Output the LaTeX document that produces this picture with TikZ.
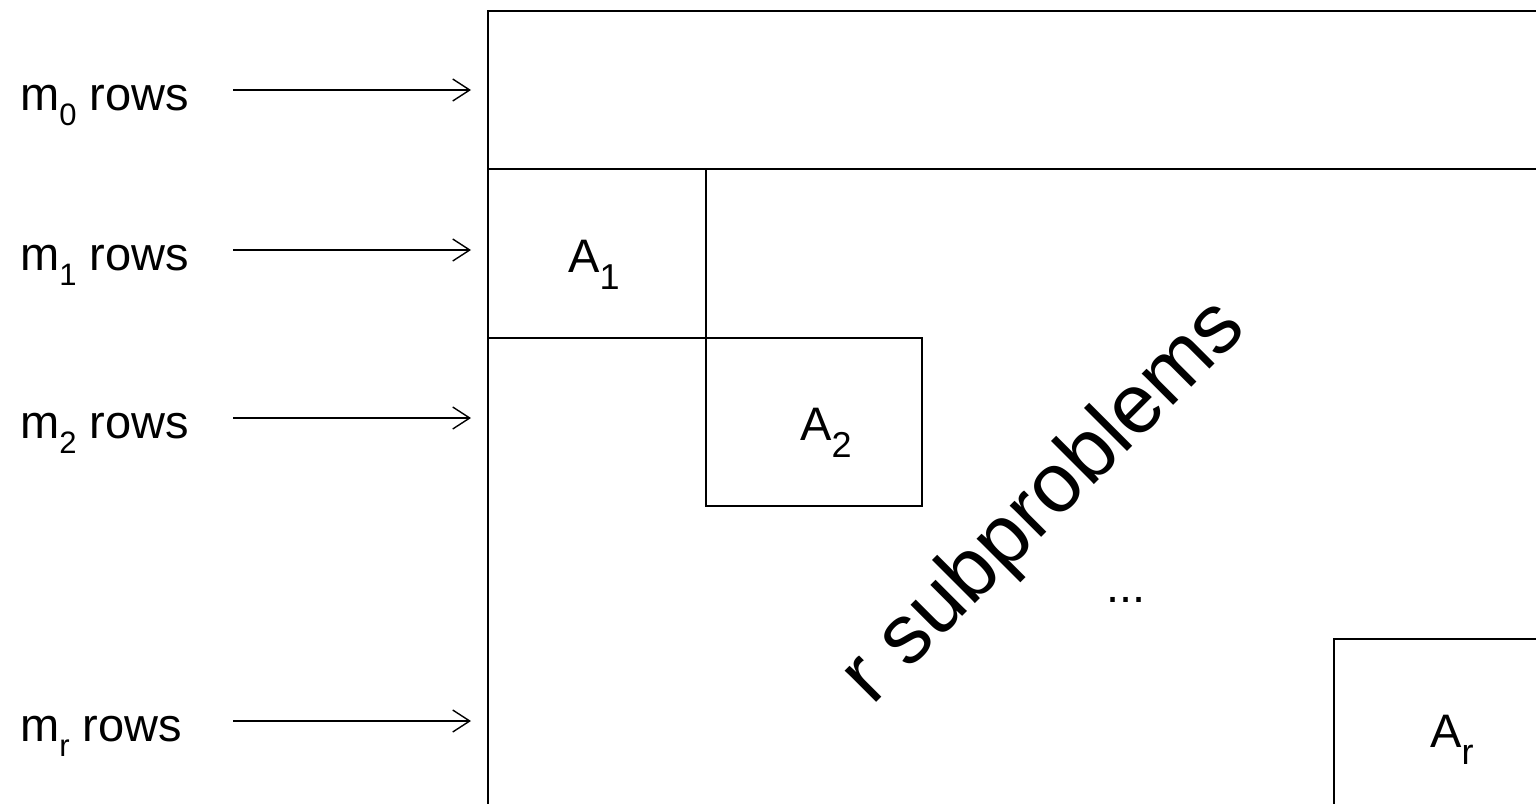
\documentclass[tikz,border=0pt]{standalone}
\usepackage{fontspec}
\setmainfont{Liberation Sans}
\usetikzlibrary{arrows.meta}
\newcommand{\lowsb}[1]{\raisebox{-0.34em}{\fontsize{31}{32}\selectfont #1}}
\newcommand{\lowsbA}[1]{\raisebox{-0.36em}{\fontsize{36}{38}\selectfont #1}}
\begin{document}
\begin{tikzpicture}[x=1pt,y=-1pt,
  lbl/.style={font=\fontsize{47}{50}\selectfont, inner sep=0pt},
  boxline/.style={line width=2.2pt},
  rowarrow/.style={line width=1.4pt,-{Straight Barb[length=17pt,width=22pt,line width=1.4pt]}}]
\useasboundingbox (0,0) rectangle (1536,803);
\begin{scope}
\clip (0,0) rectangle (1536,803);
\draw[boxline] (488,11) rectangle (1600,900);
\draw[boxline] (488,169) -- (1600,169);
\draw[boxline] (488,169) rectangle (706,338);
\draw[boxline] (706,338) rectangle (922,506);
\draw[boxline] (1334,639) rectangle (1600,900);
\end{scope}
\node[lbl] (a1t) at (594,265) {A\lowsbA{1}};
\node[lbl] (a2t) at (826,433) {A\lowsbA{2}};
\node[lbl] (art) at (1452,740) {A\lowsbA{r}};
\node[lbl] (dots) at (1126,600) {...};
\node[font=\fontsize{84}{90}\selectfont, inner sep=0pt, rotate=45] (rsub) at (1045,503) {r subproblems};
\node[lbl, anchor=base west] (m0) at (20,110) {m\lowsb{0} rows};
\node[lbl, anchor=base west] (m1) at (20,270) {m\lowsb{1} rows};
\node[lbl, anchor=base west] (m2) at (20,438) {m\lowsb{2} rows};
\node[lbl, anchor=base west] (mr) at (20,741) {m\lowsb{r} rows};
\coordinate (s0) at (233,90); \coordinate (e0) at (471,90);
\coordinate (s1) at (233,250); \coordinate (e1) at (471,250);
\coordinate (s2) at (233,418); \coordinate (e2) at (471,418);
\coordinate (sr) at (233,721); \coordinate (er) at (471,721);
\draw[rowarrow] (s0) -- (e0);
\draw[rowarrow] (s1) -- (e1);
\draw[rowarrow] (s2) -- (e2);
\draw[rowarrow] (sr) -- (er);
\end{tikzpicture}
\end{document}
